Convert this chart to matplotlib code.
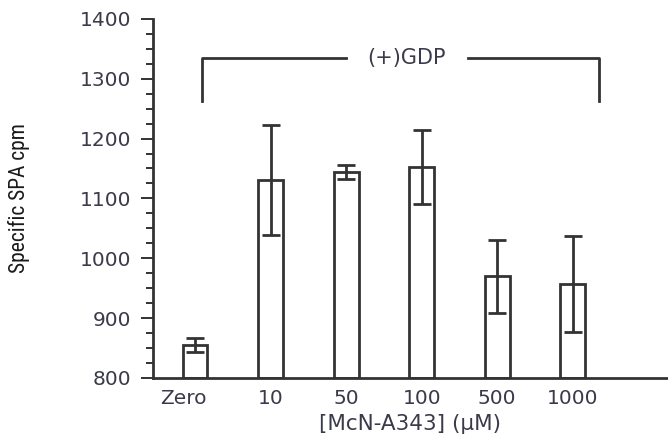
import numpy as np
import matplotlib.pyplot as plt
import matplotlib.transforms as mtransforms
from matplotlib.ticker import MultipleLocator

# McN-A343 concentrations and mean specific SPA counts with error
doses = ["Zero", "10", "50", "100", "500", "1000"]
cpm = [855, 1131, 1144, 1152, 970, 957]
err = [12, 92, 12, 62, 61, 80]

ink = "#333333"
text_col = "#3a3a4a"

fig = plt.figure(figsize=(6.68, 4.38), dpi=100)
ax = fig.add_axes([0.229, 0.137, 0.771, 0.820])

x = np.arange(len(doses))
ax.bar(x, np.array(cpm) - 800, bottom=800, width=0.33, color="white",
       edgecolor=ink, linewidth=2)
ax.errorbar(x, cpm, yerr=err, fmt="none", ecolor=ink, elinewidth=2,
            capsize=6.5, capthick=2)

ax.set_ylim(800, 1400)
ax.set_xlim(-0.556, 6.26)
ax.yaxis.set_major_locator(MultipleLocator(100))
ax.yaxis.set_minor_locator(MultipleLocator(25))
ax.tick_params(axis="y", which="major", length=8.5, width=1.4, color=ink,
               labelsize=14.5, labelcolor=text_col, pad=7)
ax.tick_params(axis="y", which="minor", length=5, width=1.4, color=ink)
ax.set_xticks(x)
ax.set_xticklabels(doses)
ax.tick_params(axis="x", length=0, labelsize=14.5, labelcolor=text_col, pad=8)
# nudge the "Zero" label a bit to the left
lbl = ax.get_xticklabels()[0]
lbl.set_transform(lbl.get_transform() +
                  mtransforms.ScaledTranslation(-12 / 100, 0, fig.dpi_scale_trans))

for s in ["top", "right"]:
    ax.spines[s].set_visible(False)
for s in ["left", "bottom"]:
    ax.spines[s].set_linewidth(2)
    ax.spines[s].set_color(ink)

ax.set_xlabel("[McN-A343] (\u03bcM)", fontsize=15.5, color=text_col, labelpad=4)
ax.set_ylabel("Specific SPA cpm", fontsize=15.5, color="#1a1a1a",
              family=["Roboto Condensed", "DejaVu Sans"], labelpad=36)

# bracket over the GDP-treated groups
bx0, bx1 = 0.09, 5.35
ytop, ybot = 1335, 1262
ax.plot([bx0, bx0, 2.0], [ybot, ytop, ytop], color=ink, lw=2, clip_on=False)
ax.plot([3.61, bx1, bx1], [ytop, ytop, ybot], color=ink, lw=2, clip_on=False)
ax.text(2.8, ytop, "(+)GDP", ha="center", va="center", fontsize=15,
        color=text_col)

fig.savefig("out.png", dpi=100)
